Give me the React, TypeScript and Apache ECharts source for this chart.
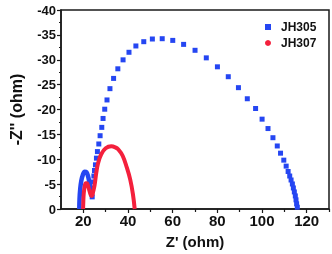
import React, { useEffect, useRef } from 'react';
import * as echarts from 'echarts';

// JH305 – square markers along the large arc (Z', Z'')
const jh305Arc: number[][] = [
  [23.97, -2.44], [24.11, -4.23], [24.42, -5.43], [24.72, -6.63], [24.99, -7.74],
  [25.43, -8.88], [25.87, -10.22], [26.31, -11.54], [26.93, -13.07], [27.51, -14.73],
  [28.26, -16.41], [28.83, -18.2], [29.58, -20.06], [30.6, -21.92], [31.92, -24.19],
  [33.55, -26.25], [35.45, -28.18], [37.79, -29.98], [40.44, -31.5], [43.53, -32.77],
  [47.06, -33.63], [50.91, -34.17], [55.32, -34.23], [60.04, -33.89], [64.9, -33.09],
  [70.02, -31.9], [75.06, -30.38], [80.04, -28.58], [84.9, -26.59], [89.45, -24.39],
  [93.42, -22.16], [97.13, -20.2], [100.04, -18.06], [102.69, -16.17], [104.9, -14.33],
  [106.84, -12.67], [108.3, -11.22], [109.76, -9.82], [110.82, -8.62], [111.7, -7.54],
  [112.41, -6.63], [113.02, -5.83], [113.6, -5.03], [114.04, -4.23], [114.48, -3.43],
  [114.92, -2.63], [115.23, -1.84], [115.5, -1.04], [115.81, -0.36],
];

// JH305 – dense small high-frequency arc
const jh305Small: number[][] = [
  [18.2, 0], [18.3, -2], [18.6, -4], [19.1, -5.7], [19.8, -6.9], [20.6, -7.5],
  [21.4, -7.4], [22.1, -6.6], [22.7, -5.3], [23.3, -3.9], [23.8, -2.8], [24.1, -2.5],
];

// JH307 – dense points (two arcs)
const jh307: number[][] = [
  [19.9, 0], [20.0, -1.6], [20.2, -3.2], [20.6, -4.5], [21.1, -5.2], [21.6, -5.2],
  [22.1, -4.7], [22.6, -3.9], [23.1, -3.1], [23.6, -2.6], [24.0, -2.7], [24.4, -3.5],
  [25.0, -4.7], [25.8, -7.3], [26.6, -9.2], [28.0, -11.0], [30.0, -12.2], [32.5, -12.6],
  [34.3, -12.4], [35.6, -12.0], [37.6, -10.7], [39.5, -8.3], [41.0, -5.9], [42.2, -3.0],
  [43.0, 0],
];

const xMajorTicks = [20, 40, 60, 80, 100, 120];
const xMinorTicks = [30, 50, 70, 90, 110, 130];

const BLUE = '#2546f2';
const RED = '#f4203c';
const FONT = "Arial, 'Liberation Sans', sans-serif";

export default function App() {
  const ref = useRef<HTMLDivElement>(null);
  useEffect(() => {
    if (!ref.current) return;
    const chart = echarts.init(ref.current, undefined, { renderer: 'svg' });
    chart.setOption({
      animation: false,
      grid: {
        left: 59, right: 3, top: 10, bottom: 43.5,
        show: true, borderColor: '#1a1a1a', borderWidth: 1.5, backgroundColor: 'transparent',
      },
      legend: {
        orient: 'vertical',
        left: 260,
        top: 16,
        itemWidth: 16,
        itemHeight: 6,
        itemGap: 4,
        textStyle: { fontFamily: FONT, fontWeight: 'bold', fontSize: 12, color: '#111' },
        data: [
          { name: 'JH305', icon: 'path://M0 0H10V10H0Z' },
          { name: 'JH307', icon: 'circle' },
        ],
      },
      xAxis: [
        {
          type: 'value', min: 10, max: 130,
          name: "Z' (ohm)", nameLocation: 'middle', nameGap: 25,
          nameTextStyle: { fontFamily: FONT, fontWeight: 'bold', fontSize: 15, color: '#111' },
          axisLine: { show: true, lineStyle: { color: '#1a1a1a', width: 1.5 } },
          axisTick: { show: true, customValues: xMajorTicks, length: 4, lineStyle: { color: '#1a1a1a', width: 1.2 } },
          axisLabel: { customValues: xMajorTicks, margin: 4, fontFamily: FONT, fontWeight: 'bold', fontSize: 15, color: '#111' },
          splitLine: { show: false },
        },
        {
          type: 'value', min: 10, max: 130, position: 'bottom',
          axisLine: { show: false },
          axisTick: { show: true, customValues: xMinorTicks, length: 3, lineStyle: { color: '#1a1a1a', width: 1.2 } },
          axisLabel: { show: false },
          splitLine: { show: false },
        },
      ],
      yAxis: {
        type: 'value', min: -40, max: 0, interval: 5, inverse: true,
        name: "-Z'' (ohm)", nameLocation: 'middle', nameGap: 37,
        nameTextStyle: { fontFamily: FONT, fontWeight: 'bold', fontSize: 16, color: '#111' },
        axisLine: { show: true, lineStyle: { color: '#1a1a1a', width: 1.5 } },
        axisTick: { show: true, length: 4, lineStyle: { color: '#1a1a1a', width: 1.2 } },
        minorTick: { show: true, splitNumber: 2, length: 2, lineStyle: { color: '#1a1a1a', width: 1 } },
        axisLabel: { margin: 5, fontFamily: FONT, fontWeight: 'bold', fontSize: 13, color: '#111' },
        splitLine: { show: false },
      },
      series: [
        {
          name: 'JH305', type: 'line', data: jh305Small, smooth: 0.4, showSymbol: false,
          lineStyle: { color: BLUE, width: 4.5 }, itemStyle: { color: BLUE }, z: 2,
        },
        {
          name: 'JH305', type: 'scatter', data: jh305Arc, symbol: 'rect', symbolSize: 5,
          itemStyle: { color: BLUE, opacity: 1 }, z: 2,
        },
        {
          name: 'JH307', type: 'line', data: jh307, smooth: 0.4, showSymbol: false,
          lineStyle: { color: RED, width: 4 }, itemStyle: { color: RED }, z: 3,
        },
      ],
    });
    return () => chart.dispose();
  }, []);
  return <div ref={ref} style={{ position: 'fixed', left: 0, top: 0, width: 332, height: 254 }} />;
}
